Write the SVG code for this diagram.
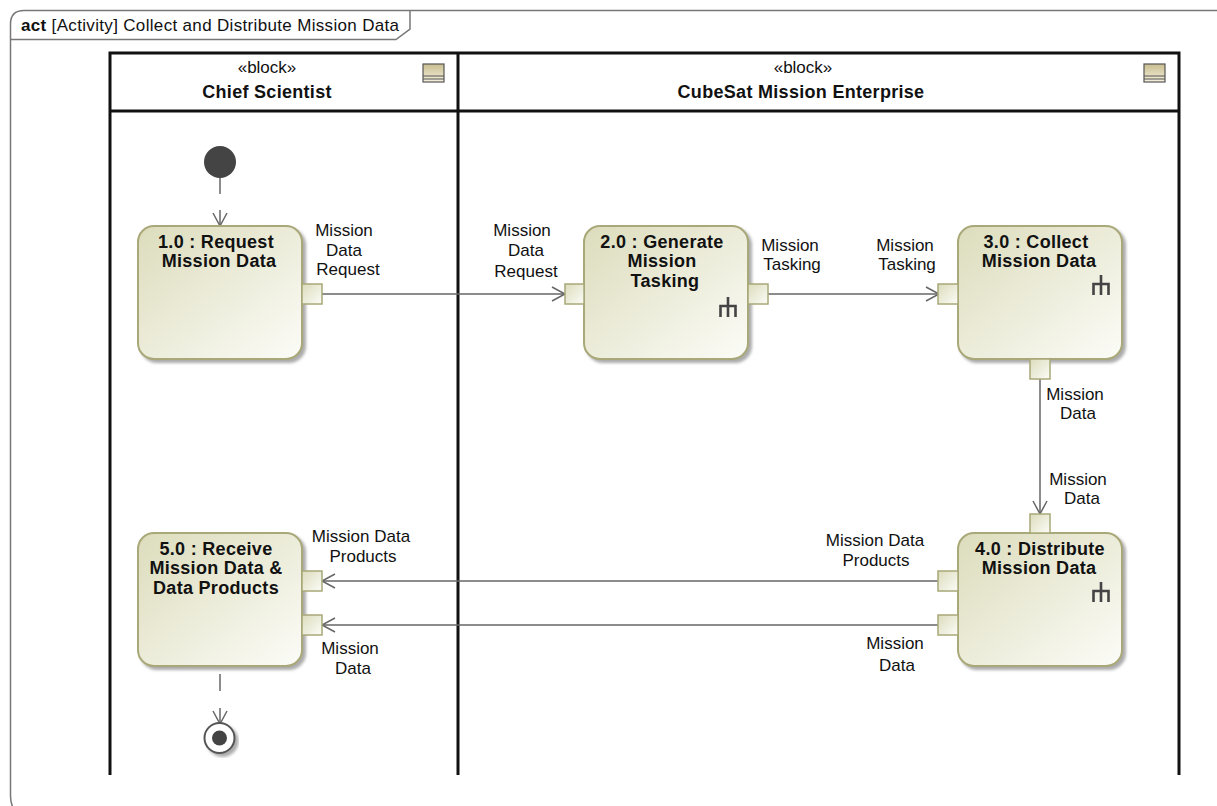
<svg xmlns="http://www.w3.org/2000/svg" width="1217" height="806" viewBox="0 0 1217 806">
<style>
text{font-family:"Liberation Sans",Arial,sans-serif;font-size:17px;fill:#111;text-anchor:middle}
.b{font-weight:bold;font-size:18px;letter-spacing:.3px}
.act{fill:url(#g);stroke:#a9a878;stroke-width:2;filter:url(#s)}
.pin{fill:url(#g);stroke:#a9a878;stroke-width:1.5}
.sw{fill:none;stroke:#111;stroke-width:3}
.c{fill:none;stroke:#666;stroke-width:1.5}
.fr{fill:none;stroke:#777;stroke-width:1.5}
.sub{fill:none;stroke:#444;stroke-width:2.6}
</style>
<defs>
<linearGradient id="g" x1="0" y1="0" x2="1" y2="1"><stop offset="0" stop-color="#dcdcbc"/><stop offset="1" stop-color="#fcfcf8"/></linearGradient>
<linearGradient id="h" x1="0" y1="0" x2="0" y2="1"><stop offset="0" stop-color="#c9bd8e"/><stop offset="1" stop-color="#f5f1dd"/></linearGradient>
<filter id="s" x="-10%" y="-10%" width="125%" height="125%"><feDropShadow dx="3" dy="3" stdDeviation="1.5" flood-color="#888" flood-opacity=".7"/></filter>
<marker id="a" markerWidth="16" markerHeight="18" refX="14" refY="9" orient="auto" markerUnits="userSpaceOnUse"><path d="M1 2L14 9L1 16" fill="none" stroke="#666" stroke-width="1.5"/></marker>
<g id="rake"><path class="sub" d="M0 0V20M-7.500 20V9H7.500V20"/></g>
<g id="ic"><rect x="0" y="0" width="21" height="18" fill="url(#h)" stroke="#555" stroke-width="1.200"/><path d="M0 12H21M0 15H21" stroke="#555" stroke-width="1"/></g>
</defs>
<rect width="1217" height="806" fill="#fff"/>
<g id="frame">
<path class="fr" d="M1217 10.500H24Q10.500 10.500 10.500 24V796Q10.500 806 16 812"/>
<path class="fr" d="M10.500 39.500H396L410 29V10.500"/>
<text x="21" y="31" style="text-anchor:start;letter-spacing:.33px"><tspan font-weight="bold">act</tspan> [Activity] Collect and Distribute Mission Data</text>
</g>
<g id="swimlanes">
<path class="sw" d="M110 775V53H1179V775M458 53V775M110 111H1179"/>
<text x="267" y="73">«block»</text>
<text class="b" x="267" y="98">Chief Scientist</text>
<use href="#ic" x="423" y="64"/>
<text x="803" y="73">«block»</text>
<text class="b" x="801" y="98">CubeSat Mission Enterprise</text>
<use href="#ic" x="1144" y="64"/>
</g>
<g id="connectors">
<path class="c" d="M220 177V194"/>
<path class="c" d="M220 210V226" marker-end="url(#a)"/>
<path class="c" d="M322 294H565" marker-end="url(#a)"/>
<path class="c" d="M768 294H939" marker-end="url(#a)"/>
<path class="c" d="M1040 379V514" marker-end="url(#a)"/>
<path class="c" d="M939 581H322" marker-end="url(#a)"/>
<path class="c" d="M939 625H322" marker-end="url(#a)"/>
<path class="c" d="M220 674V691"/>
<path class="c" d="M220 708V724" marker-end="url(#a)"/>
</g>
<g id="start"><circle cx="220" cy="162" r="16" fill="#444"/></g>
<g id="end">
<circle cx="219.500" cy="738" r="15" fill="#fff" stroke="#555" stroke-width="2" filter="url(#s)"/>
<circle cx="219.500" cy="738" r="7.500" fill="#444"/>
</g>
<g id="n1">
<rect class="act" x="138" y="226" width="164" height="133" rx="16"/>
<rect class="pin" x="302" y="284" width="20" height="20"/>
<text class="b" x="216" y="248">1.0 : Request</text>
<text class="b" x="219" y="267">Mission Data</text>
<text x="344" y="236">Mission</text><text x="344" y="256">Data</text><text x="348" y="275">Request</text>
</g>
<g id="n2">
<rect class="act" x="584" y="226" width="164" height="133" rx="16"/>
<rect class="pin" x="565" y="284" width="19" height="20"/>
<rect class="pin" x="748" y="284" width="20" height="20"/>
<text class="b" x="662" y="248">2.0 : Generate</text>
<text class="b" x="662" y="267">Mission</text>
<text class="b" x="665" y="287">Tasking</text>
<use href="#rake" x="728" y="297"/>
<text x="522" y="236">Mission</text><text x="526" y="256">Data</text><text x="526" y="277">Request</text>
<text x="790" y="251">Mission</text><text x="792" y="270">Tasking</text>
</g>
<g id="n3">
<rect class="act" x="958" y="226" width="164" height="133" rx="16"/>
<rect class="pin" x="938" y="284" width="20" height="20"/>
<rect class="pin" x="1030" y="359" width="20" height="20"/>
<text class="b" x="1036" y="248">3.0 : Collect</text>
<text class="b" x="1039" y="267">Mission Data</text>
<use href="#rake" x="1101" y="275"/>
<text x="905" y="251">Mission</text><text x="907" y="270">Tasking</text>
<text x="1075" y="400">Mission</text><text x="1078" y="419">Data</text>
</g>
<g id="n4">
<rect class="act" x="958" y="533" width="164" height="133" rx="16"/>
<rect class="pin" x="1030" y="514" width="20" height="19"/>
<rect class="pin" x="938" y="571" width="20" height="20"/>
<rect class="pin" x="938" y="615" width="20" height="20"/>
<text class="b" x="1040" y="555">4.0 : Distribute</text>
<text class="b" x="1039" y="574">Mission Data</text>
<use href="#rake" x="1101" y="582"/>
<text x="1078" y="485">Mission</text><text x="1082" y="504">Data</text>
<text x="875" y="546">Mission Data</text><text x="876" y="566">Products</text>
<text x="895" y="649">Mission</text><text x="897" y="671">Data</text>
</g>
<g id="n5">
<rect class="act" x="138" y="533" width="164" height="133" rx="16"/>
<rect class="pin" x="302" y="571" width="20" height="20"/>
<rect class="pin" x="302" y="615" width="20" height="20"/>
<text class="b" x="216" y="555">5.0 : Receive</text>
<text class="b" x="216" y="574">Mission Data &amp;</text>
<text class="b" x="216" y="594">Data Products</text>
<text x="361" y="542">Mission Data</text><text x="363" y="562">Products</text>
<text x="350" y="654">Mission</text><text x="353" y="674">Data</text>
</g>
</svg>
